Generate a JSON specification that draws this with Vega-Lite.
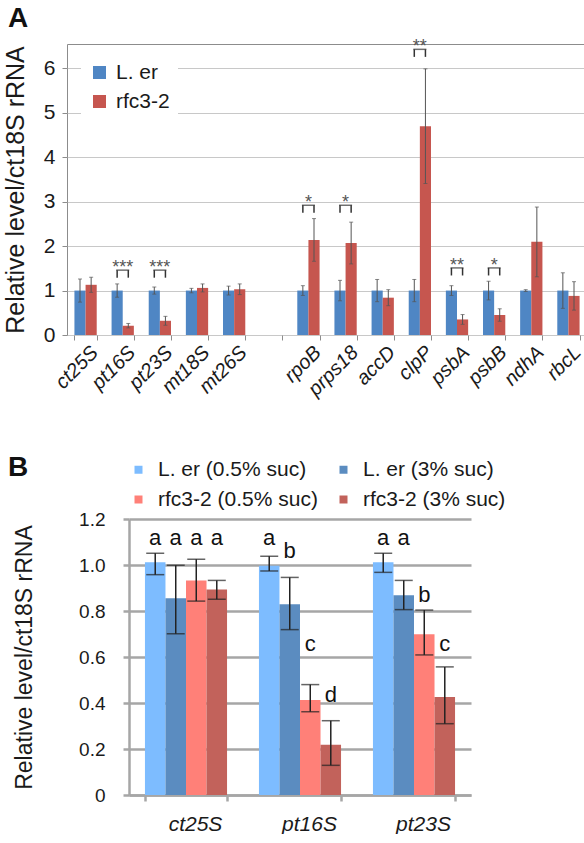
{
  "$schema": "https://vega.github.io/schema/vega-lite/v6.json",
  "background": "white",
  "padding": {"left": 2, "top": 4, "right": 0, "bottom": 0},
  "config": {"font": "Liberation Sans", "view": {"stroke": null}, "axis": {"labelColor": "#1a1a1a", "titleColor": "#1a1a1a", "titleFontWeight": "normal"}},
  "datasets": {
    "a": [
      {"gene": "ct25S", "series": "L. er", "value": 1, "lo": 0.74, "hi": 1.26},
      {"gene": "pt16S", "series": "L. er", "value": 1, "lo": 0.85, "hi": 1.15},
      {"gene": "pt23S", "series": "L. er", "value": 1, "lo": 0.92, "hi": 1.08},
      {"gene": "mt18S", "series": "L. er", "value": 1, "lo": 0.95, "hi": 1.05},
      {"gene": "mt26S", "series": "L. er", "value": 1, "lo": 0.9, "hi": 1.1},
      {"gene": "rpoB", "series": "L. er", "value": 1, "lo": 0.89, "hi": 1.11},
      {"gene": "prps18", "series": "L. er", "value": 1, "lo": 0.77, "hi": 1.23},
      {"gene": "accD", "series": "L. er", "value": 1, "lo": 0.75, "hi": 1.25},
      {"gene": "clpP", "series": "L. er", "value": 1, "lo": 0.75, "hi": 1.25},
      {"gene": "psbA", "series": "L. er", "value": 1, "lo": 0.89, "hi": 1.11},
      {"gene": "psbB", "series": "L. er", "value": 1, "lo": 0.79, "hi": 1.21},
      {"gene": "ndhA", "series": "L. er", "value": 1, "lo": 0.98, "hi": 1.02},
      {"gene": "rbcL", "series": "L. er", "value": 1, "lo": 0.6, "hi": 1.4},
      {"gene": "ct25S", "series": "rfc3-2", "value": 1.13, "lo": 0.96, "hi": 1.3},
      {"gene": "pt16S", "series": "rfc3-2", "value": 0.21, "lo": 0.16, "hi": 0.26},
      {"gene": "pt23S", "series": "rfc3-2", "value": 0.32, "lo": 0.22, "hi": 0.42},
      {"gene": "mt18S", "series": "rfc3-2", "value": 1.06, "lo": 0.97, "hi": 1.15},
      {"gene": "mt26S", "series": "rfc3-2", "value": 1.03, "lo": 0.91, "hi": 1.15},
      {"gene": "rpoB", "series": "rfc3-2", "value": 2.14, "lo": 1.66, "hi": 2.62},
      {"gene": "prps18", "series": "rfc3-2", "value": 2.07, "lo": 1.6, "hi": 2.54},
      {"gene": "accD", "series": "rfc3-2", "value": 0.84, "lo": 0.66, "hi": 1.02},
      {"gene": "clpP", "series": "rfc3-2", "value": 4.7, "lo": 3.41, "hi": 5.99},
      {"gene": "psbA", "series": "rfc3-2", "value": 0.35, "lo": 0.24, "hi": 0.46},
      {"gene": "psbB", "series": "rfc3-2", "value": 0.45, "lo": 0.31, "hi": 0.59},
      {"gene": "ndhA", "series": "rfc3-2", "value": 2.1, "lo": 1.31, "hi": 2.88},
      {"gene": "rbcL", "series": "rfc3-2", "value": 0.88, "lo": 0.56, "hi": 1.2}
    ],
    "aStars": [
      {"gene": "pt16S", "stars": "***", "top": 1.46, "bottom": 1.29},
      {"gene": "pt23S", "stars": "***", "top": 1.46, "bottom": 1.29},
      {"gene": "rpoB", "stars": "*", "top": 2.92, "bottom": 2.75},
      {"gene": "prps18", "stars": "*", "top": 2.92, "bottom": 2.75},
      {"gene": "clpP", "stars": "**", "top": 6.43, "bottom": 6.26},
      {"gene": "psbA", "stars": "**", "top": 1.51, "bottom": 1.34},
      {"gene": "psbB", "stars": "*", "top": 1.51, "bottom": 1.34}
    ],
    "aLegs": [
      {"gene": "pt16S", "series": "L. er", "top": 1.46, "bottom": 1.29},
      {"gene": "pt16S", "series": "rfc3-2", "top": 1.46, "bottom": 1.29},
      {"gene": "pt23S", "series": "L. er", "top": 1.46, "bottom": 1.29},
      {"gene": "pt23S", "series": "rfc3-2", "top": 1.46, "bottom": 1.29},
      {"gene": "rpoB", "series": "L. er", "top": 2.92, "bottom": 2.75},
      {"gene": "rpoB", "series": "rfc3-2", "top": 2.92, "bottom": 2.75},
      {"gene": "prps18", "series": "L. er", "top": 2.92, "bottom": 2.75},
      {"gene": "prps18", "series": "rfc3-2", "top": 2.92, "bottom": 2.75},
      {"gene": "clpP", "series": "L. er", "top": 6.43, "bottom": 6.26},
      {"gene": "clpP", "series": "rfc3-2", "top": 6.43, "bottom": 6.26},
      {"gene": "psbA", "series": "L. er", "top": 1.51, "bottom": 1.34},
      {"gene": "psbA", "series": "rfc3-2", "top": 1.51, "bottom": 1.34},
      {"gene": "psbB", "series": "L. er", "top": 1.51, "bottom": 1.34},
      {"gene": "psbB", "series": "rfc3-2", "top": 1.51, "bottom": 1.34}
    ],
    "b": [
      {"gene": "ct25S", "cond": "L. er (0.5% suc)", "value": 1.012, "lo": 0.958, "hi": 1.051},
      {"gene": "ct25S", "cond": "L. er (3% suc)", "value": 0.855, "lo": 0.701, "hi": 0.999},
      {"gene": "ct25S", "cond": "rfc3-2 (0.5% suc)", "value": 0.933, "lo": 0.843, "hi": 1.025},
      {"gene": "ct25S", "cond": "rfc3-2 (3% suc)", "value": 0.894, "lo": 0.851, "hi": 0.933},
      {"gene": "pt16S", "cond": "L. er (0.5% suc)", "value": 0.997, "lo": 0.974, "hi": 1.038},
      {"gene": "pt16S", "cond": "L. er (3% suc)", "value": 0.829, "lo": 0.719, "hi": 0.946},
      {"gene": "pt16S", "cond": "rfc3-2 (0.5% suc)", "value": 0.413, "lo": 0.362, "hi": 0.48},
      {"gene": "pt16S", "cond": "rfc3-2 (3% suc)", "value": 0.219, "lo": 0.129, "hi": 0.323},
      {"gene": "pt23S", "cond": "L. er (0.5% suc)", "value": 1.012, "lo": 0.968, "hi": 1.051},
      {"gene": "pt23S", "cond": "L. er (3% suc)", "value": 0.868, "lo": 0.806, "hi": 0.933},
      {"gene": "pt23S", "cond": "rfc3-2 (0.5% suc)", "value": 0.699, "lo": 0.609, "hi": 0.804},
      {"gene": "pt23S", "cond": "rfc3-2 (3% suc)", "value": 0.426, "lo": 0.31, "hi": 0.557}
    ],
    "bLetters": [
      {"gene": "ct25S", "cond": "L. er (0.5% suc)", "letter": "a", "level": 1.088},
      {"gene": "ct25S", "cond": "L. er (3% suc)", "letter": "a", "level": 1.088},
      {"gene": "ct25S", "cond": "rfc3-2 (0.5% suc)", "letter": "a", "level": 1.088},
      {"gene": "ct25S", "cond": "rfc3-2 (3% suc)", "letter": "a", "level": 1.088},
      {"gene": "pt16S", "cond": "L. er (0.5% suc)", "letter": "a", "level": 1.088},
      {"gene": "pt16S", "cond": "L. er (3% suc)", "letter": "b", "level": 1.029},
      {"gene": "pt16S", "cond": "rfc3-2 (0.5% suc)", "letter": "c", "level": 0.626},
      {"gene": "pt16S", "cond": "rfc3-2 (3% suc)", "letter": "d", "level": 0.406},
      {"gene": "pt23S", "cond": "L. er (0.5% suc)", "letter": "a", "level": 1.088},
      {"gene": "pt23S", "cond": "L. er (3% suc)", "letter": "a", "level": 1.088},
      {"gene": "pt23S", "cond": "rfc3-2 (0.5% suc)", "letter": "b", "level": 0.84},
      {"gene": "pt23S", "cond": "rfc3-2 (3% suc)", "letter": "c", "level": 0.626}
    ],
    "blank": []
  },
  "resolve": {"scale": {"x": "independent", "y": "independent", "xOffset": "independent", "color": "independent"}, "legend": {"color": "independent"}, "axis": {"x": "independent", "y": "independent"}},
  "spacing": 54,
  "vconcat": [
    {
      "width": 520,
      "height": 291,
      "view": {"stroke": "#8c8c8c", "strokeWidth": 1},
      "title": {"text": "A", "anchor": "start", "frame": "group", "dx": -59, "fontSize": 28, "fontWeight": "bold", "color": "#111", "baseline": "alphabetic", "offset": -17},
      "encoding": {
        "x": {
          "field": "gene", "type": "nominal", "title": null,
          "scale": {"domain": ["ct25S", "pt16S", "pt23S", "mt18S", "mt26S", "gap", "rpoB", "prps18", "accD", "clpP", "psbA", "psbB", "ndhA", "rbcL"], "paddingInner": 0.4, "paddingOuter": 0.2},
          "axis": {"labelExpr": "datum.value == 'gap' ? '' : datum.value", "labelAngle": -45, "labelAlign": "right", "labelBaseline": "middle", "labelFontSize": 20, "labelFontStyle": "italic", "labelPadding": 9, "tickBand": "extent", "tickColor": "#8c8c8c", "tickSize": 5, "domain": false, "labelOffset": 9}
        }
      },
      "layer": [
        {
          "data": {"name": "a"},
          "mark": {"type": "bar"},
          "encoding": {
            "xOffset": {"field": "series", "type": "nominal", "scale": {"domain": ["L. er", "rfc3-2"], "paddingInner": 0, "paddingOuter": 0}},
            "y": {"field": "value", "type": "quantitative", "title": "Relative level/ct18S rRNA",
              "scale": {"domain": [0, 6.55], "nice": false},
              "axis": {"values": [0, 1, 2, 3, 4, 5, 6], "grid": true, "gridColor": "#c8c8c8", "domain": false, "ticks": true, "tickColor": "#8c8c8c", "tickSize": 5, "labelPadding": 7, "labelFontSize": 21, "titleFontSize": 25, "titlePadding": 15}},
            "color": {"field": "series", "type": "nominal", "scale": {"domain": ["L. er", "rfc3-2"], "range": ["#4f86c4", "#c6564f"]},
              "legend": {"title": null, "orient": "none", "legendX": 14, "legendY": 10, "padding": 8, "fillColor": "white", "symbolType": "square", "symbolSize": 170, "symbolStrokeWidth": 0, "labelFontSize": 21, "labelOffset": 6, "rowPadding": 7, "labelColor": "#1a1a1a"}}
          }
        },
        {
          "data": {"name": "a"},
          "mark": {"type": "rule", "color": "#555555", "strokeWidth": 1},
          "encoding": {
            "xOffset": {"field": "series", "type": "nominal"},
            "y": {"field": "lo", "type": "quantitative"},
            "y2": {"field": "hi"}
          }
        },
        {
          "data": {"name": "a"},
          "mark": {"type": "tick", "color": "#555555", "size": 4, "thickness": 1},
          "encoding": {
            "xOffset": {"field": "series", "type": "nominal"},
            "y": {"field": "lo", "type": "quantitative"}
          }
        },
        {
          "data": {"name": "a"},
          "mark": {"type": "tick", "color": "#555555", "size": 4, "thickness": 1},
          "encoding": {
            "xOffset": {"field": "series", "type": "nominal"},
            "y": {"field": "hi", "type": "quantitative"}
          }
        },
        {
          "data": {"name": "aLegs"},
          "mark": {"type": "rule", "color": "#333333", "strokeWidth": 1.5},
          "encoding": {
            "xOffset": {"field": "series", "type": "nominal"},
            "y": {"field": "bottom", "type": "quantitative"},
            "y2": {"field": "top"}
          }
        },
        {
          "data": {"name": "aStars"},
          "mark": {"type": "tick", "color": "#333333", "size": 13, "thickness": 1.5},
          "encoding": {
            "y": {"field": "top", "type": "quantitative"}
          }
        },
        {
          "data": {"name": "aStars"},
          "mark": {"type": "text", "color": "#555555", "fontSize": 18, "baseline": "alphabetic", "dy": 3},
          "encoding": {
            "y": {"field": "top", "type": "quantitative"},
            "text": {"field": "stars"}
          }
        }
      ]
    },
    {
      "bounds": "flush",
      "spacing": 0,
      "resolve": {"scale": {"x": "independent", "y": "independent", "color": "independent"}},
      "hconcat": [
        {
          "width": 62,
          "height": 10,
          "data": {"name": "blank"},
          "mark": {"type": "point", "opacity": 0},
          "encoding": {}
        },
        {
          "width": 342,
          "height": 276,
          "title": {"text": "B", "anchor": "start", "frame": "group", "dx": -121, "fontSize": 28, "fontWeight": "bold", "color": "#111", "baseline": "alphabetic", "offset": -45},
          "encoding": {
            "x": {
              "field": "gene", "type": "nominal", "title": null,
              "scale": {"domain": ["ct25S", "pt16S", "pt23S"], "paddingInner": 0.28, "paddingOuter": 0.14},
              "axis": {"labelAngle": 0, "labelFontSize": 21, "labelFontStyle": "italic", "labelPadding": 12, "labelOffset": 9, "tickBand": "extent", "tickColor": "#a6a6a6", "tickWidth": 2.5, "tickSize": 6, "domainColor": "#a6a6a6", "domainWidth": 2.5}
            }
          },
          "layer": [
            {
              "data": {"name": "b"},
              "mark": {"type": "bar"},
              "encoding": {
                "xOffset": {"field": "cond", "type": "nominal", "scale": {"domain": ["L. er (0.5% suc)", "L. er (3% suc)", "rfc3-2 (0.5% suc)", "rfc3-2 (3% suc)"], "paddingInner": 0, "paddingOuter": 0}},
                "y": {"field": "value", "type": "quantitative", "title": "Relative level/ct18S rRNA",
                  "scale": {"domain": [0, 1.2], "nice": false},
                  "axis": {"values": [0, 0.2, 0.4, 0.6, 0.8, 1.0, 1.2], "labelExpr": "datum.value == 0 ? '0' : format(datum.value, '.1f')", "grid": true, "gridColor": "#a6a6a6", "gridWidth": 2.5, "domainColor": "#a6a6a6", "domainWidth": 2.5, "tickColor": "#a6a6a6", "tickWidth": 2.5, "tickSize": 6, "labelPadding": 18, "labelFontSize": 19, "titleFontSize": 23, "titlePadding": 42}},
                "color": {"field": "cond", "type": "nominal", "scale": {"domain": ["L. er (0.5% suc)", "L. er (3% suc)", "rfc3-2 (0.5% suc)", "rfc3-2 (3% suc)"], "range": ["#7dbcff", "#5b8cc0", "#ff8078", "#c2625b"]},
                  "legend": {"title": null, "orient": "none", "legendX": -1, "legendY": -60, "padding": 0, "columns": 2, "direction": "horizontal", "symbolType": "square", "symbolSize": 64, "symbolStrokeWidth": 0, "labelFontSize": 21, "labelOffset": 9, "rowPadding": 8, "columnPadding": 15, "labelColor": "#1a1a1a", "labelLimit": 300}}
              }
            },
            {
              "data": {"name": "b"},
              "mark": {"type": "rule", "color": "#222222", "strokeWidth": 1.5},
              "encoding": {
                "xOffset": {"field": "cond", "type": "nominal"},
                "y": {"field": "lo", "type": "quantitative"},
                "y2": {"field": "hi"}
              }
            },
            {
              "data": {"name": "b"},
              "mark": {"type": "tick", "color": "#222222", "size": 18, "thickness": 1.5},
              "encoding": {
                "xOffset": {"field": "cond", "type": "nominal"},
                "y": {"field": "lo", "type": "quantitative"}
              }
            },
            {
              "data": {"name": "b"},
              "mark": {"type": "tick", "color": "#222222", "size": 18, "thickness": 1.5},
              "encoding": {
                "xOffset": {"field": "cond", "type": "nominal"},
                "y": {"field": "hi", "type": "quantitative"}
              }
            },
            {
              "data": {"name": "bLetters"},
              "mark": {"type": "text", "color": "#111111", "fontSize": 22, "baseline": "alphabetic"},
              "encoding": {
                "xOffset": {"field": "cond", "type": "nominal"},
                "y": {"field": "level", "type": "quantitative"},
                "text": {"field": "letter"}
              }
            }
          ]
        }
      ]
    }
  ]
}
